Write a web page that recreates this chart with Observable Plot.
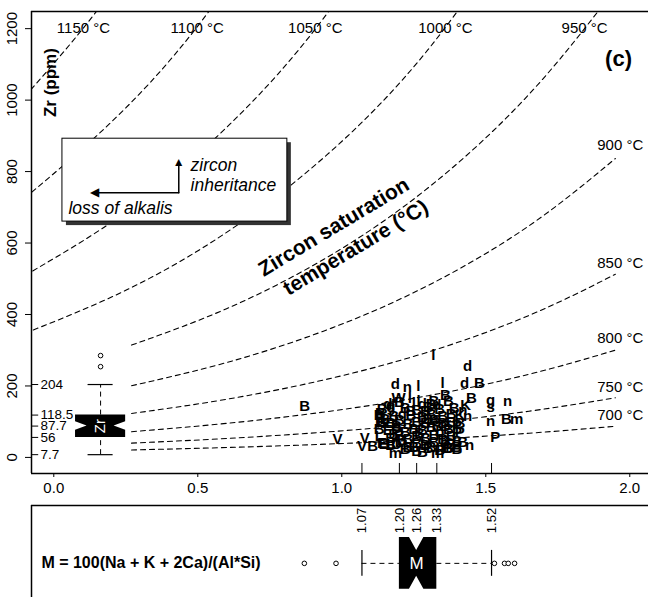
<!DOCTYPE html>
<html><head><meta charset="utf-8">
<script src="https://cdn.jsdelivr.net/npm/d3@7"></script>
<script src="https://cdn.jsdelivr.net/npm/@observablehq/plot@0.6"></script>
<style>
html,body{margin:0;padding:0;background:#fff;overflow:hidden}
#chart svg{display:block}
</style></head><body><div id="chart"></div>
<script>
// ---------- data ----------
const xTicks = [0, 0.5, 1, 1.5, 2];
const yTicks = [0, 200, 400, 600, 800, 1000, 1200];

// Zircon saturation isotherms (Zr ppm read along M)
const tLabels = ["1150 °C","1100 °C","1050 °C","1000 °C","950 °C","900 °C","850 °C","800 °C","750 °C","700 °C"];
const lowM = [0.27, 0.6, 0.95, 1.3, 1.65, 1.95];
const zr700 = [20.9, 27.7, 37.3, 50.2, 67.7, 87.3];
const zr750 = [40.0, 53.0, 71.3, 96.0, 129.3, 166.9];
const zr800 = [72.0, 95.3, 128.3, 172.8, 232.6, 300.2];
const zr850 = [122.9, 162.7, 219.1, 295.0, 397.3, 512.6];
const zr900 = [200.6, 265.5, 357.5, 481.4, 648.2, 836.5];
const zr950 = [314.4, 416.2, 560.4, 754.6, 1016.1, 1311.2];
const highM = [-0.1, 0.25, 0.6, 0.95, 1.3, 1.65];
const zr1000 = [347.5, 467.7, 629.8, 848.0, 1141.8, 1537.5];
const zr1050 = [509.4, 685.9, 923.5, 1243.5, 1674.4];
const zr1100 = [726.5, 978.2, 1317.1, 1773.5];
const zr1150 = [1010.6, 1360.8, 1832.1];

// Zr boxplot (left) and M boxplot (bottom)
const zrStats = [7.7, 56, 87.7, 118.5, 204];
const zrNotch = [75.7, 99.7];
const zrOutliers = [254, 285];
const mStats = [1.07, 1.20, 1.26, 1.33, 1.52];
const mNotch = [1.235, 1.285];
const mOutliers = [0.87, 0.98, 1.53, 1.565, 1.578, 1.60];
const mTitle = "M = 100(Na + K + 2Ca)/(Al*Si)";

// sample symbols: label, M, Zr
const ptLabel = ["l","d","d","n","l","l","d","B","B","B","g","s","n","n","B","m","P","n","V","V","V","B","m","m","K","n","E","L","D","W","d","l","l","B","B","B","B","P","B","B",
 "B","d","l","B","d","B",
 "B","g","B","B","B","B","B","n","d",
 "B","B","d","B","B","B","B","B","K","s",
 "B","B","B","B","B","B","B","B","B","B","P",
 "B","E","B","B","B","B","B","b","B","P",
 "L","B","B","B","B","B","B","B","B","B",
 "E","B","L","B","B","B","B","m","B","B","B",
 "B","B","B","B","B","B","B",
 "B","B","B","B","B","B","B","B","B","B","B","B"];
const ptM = [1.318,1.437,1.186,1.228,1.266,1.35,1.426,1.478,0.871,1.45,1.517,1.517,1.576,1.517,1.572,1.607,1.533,1.444,0.985,1.08,1.07,1.107,1.186,1.333,1.43,1.437,1.145,1.17,1.19,1.197,1.169,1.236,1.267,1.32,1.36,1.134,1.134,1.40,1.40,1.367,
 1.20,1.16,1.25,1.31,1.28,1.37,
 1.14,1.17,1.22,1.26,1.30,1.34,1.39,1.42,1.33,
 1.13,1.18,1.21,1.24,1.28,1.31,1.35,1.38,1.41,1.33,
 1.14,1.17,1.20,1.23,1.26,1.29,1.32,1.35,1.38,1.41,1.40,
 1.13,1.16,1.19,1.22,1.25,1.28,1.31,1.34,1.37,1.41,
 1.13,1.17,1.20,1.23,1.26,1.29,1.32,1.35,1.38,1.36,
 1.14,1.17,1.20,1.23,1.26,1.29,1.32,1.35,1.38,1.40,1.42,
 1.22,1.26,1.30,1.34,1.37,1.40,1.28,
 1.15,1.19,1.24,1.27,1.30,1.33,1.21,1.25,1.29,1.36,1.18,1.31];
const ptZr = [285,254,204,196,198,207,207,207,143,165,160,140,157,101,106,106,56,34,50,53,31,31,11,11,145,115,36,36,36,165,145,165,157,157,173,123,98,70,45,25,
 155,150,152,150,148,158,
 135,140,138,132,140,135,138,132,145,
 118,115,122,118,112,120,115,122,118,110,
 100,95,103,92,100,95,104,96,100,95,90,
 80,75,82,72,80,75,84,72,80,72,
 60,55,62,52,60,55,63,52,60,45,
 40,35,42,30,40,35,42,30,38,30,42,
 22,18,25,20,25,22,15,
 108,88,128,68,108,88,48,30,128,88,65,28];

// ---------- tables built from the arrays ----------
const curves = [];
[[700,zr700],[750,zr750],[800,zr800],[850,zr850],[900,zr900],[950,zr950]].forEach(([t,a]) =>
  a.forEach((z,i) => curves.push({T:t, M:lowM[i], Zr:z})));
[[1000,zr1000],[1050,zr1050],[1100,zr1100],[1150,zr1150]].forEach(([t,a]) =>
  a.forEach((z,i) => curves.push({T:t, M:highM[i], Zr:z})));
const points = ptLabel.map((l,i) => ({label:l, M:ptM[i], Zr:ptZr[i]}));

const font = "'Liberation Sans', Arial, Helvetica, sans-serif";
const xDomain = [-0.0774, 2.065];
const dash = "5,4";

// Zr box geometry
const zc = 0.1625, zh = 0.087, zin = 0.04;
const zrBox = [
  {y: zrStats[1], x1: zc-zh, x2: zc+zh},
  {y: zrNotch[0], x1: zc-zh, x2: zc+zh},
  {y: zrStats[2], x1: zc-zh+zin, x2: zc+zh-zin},
  {y: zrNotch[1], x1: zc-zh, x2: zc+zh},
  {y: zrStats[3], x1: zc-zh, x2: zc+zh}
];
const mh = 0.448;
const mBox = [
  {x: mStats[1], y1: -mh, y2: mh},
  {x: mNotch[0], y1: -mh, y2: mh},
  {x: mStats[2], y1: -mh/2, y2: mh/2},
  {x: mNotch[1], y1: -mh, y2: mh},
  {x: mStats[3], y1: -mh, y2: mh}
];

const topPlot = Plot.plot({
  width: 648, height: 500,
  marginLeft: 31, marginRight: 0, marginTop: 11, marginBottom: 27,
  x: {domain: xDomain},
  y: {domain: [-45, 1248]},
  style: {fontFamily: font, background: "white", color: "black"},
  marks: [
    Plot.line(curves, {x: "M", y: "Zr", z: "T", curve: "natural", stroke: "black", strokeWidth: 1.1, strokeDasharray: dash, clip: true}),
    // legend box with shadow
    Plot.rect([0], {x1: 0.03, x2: 0.811, y1: 660, y2: 892, fill: "#333", dx: 4, dy: 4}),
    Plot.rect([0], {x1: 0.03, x2: 0.811, y1: 660, y2: 892, fill: "white", stroke: "black", strokeWidth: 1}),
    Plot.line([[0.434, 741], [0.434, 820]], {stroke: "black", strokeWidth: 1.5}),
    Plot.line([[0.434, 741], [0.15, 741]], {stroke: "black", strokeWidth: 1.5}),
    Plot.text(["▲"], {x: 0.434, y: 825, fontSize: 12, fill: "black"}),
    Plot.text(["◀"], {x: 0.14, y: 741, fontSize: 12, fill: "black"}),
    Plot.text(["zircon"], {x: 0.475, y: 817, textAnchor: "start", fontStyle: "italic", fontSize: 17.5, fill: "black"}),
    Plot.text(["inheritance"], {x: 0.475, y: 761, textAnchor: "start", fontStyle: "italic", fontSize: 17.5, fill: "black"}),
    Plot.text(["loss of alkalis"], {x: 0.051, y: 697, textAnchor: "start", fontStyle: "italic", fontSize: 17.5, fill: "black"}),
    // rotated annotation
    Plot.text(["Zircon saturation"], {x: 0.972, y: 645, rotate: -31, fontWeight: "bold", fontSize: 21, fill: "black"}),
    Plot.text(["temperature (°C)"], {x: 1.048, y: 587, rotate: -31, fontWeight: "bold", fontSize: 21, fill: "black"}),
    // isotherm labels
    Plot.text(tLabels.slice(0, 5), {x: [0.103, 0.498, 0.908, 1.36, 1.843], y: 1200, fontSize: 15, fill: "black"}),
    Plot.text(tLabels.slice(5), {x: 1.967, y: [873, 543, 333, 196, 117.5], fontSize: 15, fill: "black"}),
    Plot.text(["(c)"], {x: 1.961, y: 1116, fontWeight: "bold", fontSize: 22, fill: "black"}),
    Plot.text(["Zr (ppm)"], {x: -0.0115, y: 1049, rotate: -90, fontWeight: "bold", fontSize: 17, fill: "black"}),
    // Zr boxplot
    Plot.ruleX([zc], {y1: zrStats[0], y2: zrStats[1], strokeDasharray: dash, strokeWidth: 1}),
    Plot.ruleX([zc], {y1: zrStats[3], y2: zrStats[4], strokeDasharray: dash, strokeWidth: 1}),
    Plot.ruleY([zrStats[0], zrStats[4]], {x1: zc - zh/2, x2: zc + zh/2, strokeWidth: 1.2}),
    Plot.areaX(zrBox, {y: "y", x1: "x1", x2: "x2", fill: "black", curve: "linear"}),
    Plot.text(["Zr"], {x: zc, y: zrStats[2], rotate: -90, fill: "white", fontSize: 15}),
    Plot.dot(zrOutliers, {x: zc, y: d => d, r: 2.3, stroke: "black", fill: "white", strokeWidth: 1}),
    Plot.ruleY(zrStats, {x1: xDomain[0], x2: xDomain[0] + 0.025, strokeWidth: 1}),
    Plot.text(zrStats, {x: xDomain[0], y: d => d, text: d => String(d), dx: 9, textAnchor: "start", fontSize: 13.5, fill: "black"}),
    // M quartile rug on the x axis
    Plot.ruleX(mStats, {y1: -45, y2: -17, strokeWidth: 1}),
    // samples
    Plot.text(points, {x: "M", y: "Zr", text: "label", fontWeight: "bold", fontSize: 15, fill: "black"}),
    // frame & axes
    Plot.ruleX([xDomain[0]], {strokeWidth: 1.5}),
    Plot.ruleY([-45, 1248], {strokeWidth: 1.5}),
    Plot.axisX({ticks: xTicks, tickFormat: d3.format(".1f"), tickSize: 4, tickPadding: 5, fontSize: 15, label: null}),
    Plot.axisY({ticks: yTicks, tickFormat: () => "", tickSize: 6, label: null}),
    Plot.text(yTicks, {x: xDomain[0], y: d => d, text: d => String(d), rotate: -90, dx: -19, fontSize: 15, fill: "black"})
  ]
});

const bottomPlot = Plot.plot({
  width: 648, height: 97,
  marginLeft: 31, marginRight: 0, marginTop: 5, marginBottom: 0,
  x: {domain: xDomain, axis: null},
  y: {domain: [-0.59, 1], axis: null},
  style: {fontFamily: font, background: "white", color: "black"},
  marks: [
    Plot.ruleY([0], {x1: mStats[0], x2: mStats[1], strokeDasharray: dash, strokeWidth: 1}),
    Plot.ruleY([0], {x1: mStats[3], x2: mStats[4], strokeDasharray: dash, strokeWidth: 1}),
    Plot.ruleX([mStats[0], mStats[4]], {y1: -mh/2, y2: mh/2, strokeWidth: 1.2}),
    Plot.areaY(mBox, {x: "x", y1: "y1", y2: "y2", fill: "black", curve: "linear"}),
    Plot.text(["M"], {x: mStats[2], y: 0, fill: "white", fontSize: 17}),
    Plot.dot(mOutliers, {x: d => d, y: 0, r: 2.3, stroke: "black", fill: "white", strokeWidth: 1}),
    Plot.text(mStats, {x: d => d, y: 0.741, text: d => d.toFixed(2), rotate: -90, fontSize: 13, fill: "black"}),
    Plot.text([mTitle], {x: -0.043, y: 0, textAnchor: "start", fontWeight: "bold", fontSize: 16, fill: "black"}),
    Plot.ruleX([xDomain[0]], {strokeWidth: 1.5}),
    Plot.ruleY([1], {strokeWidth: 1.5})
  ]
});

const host = document.getElementById("chart");
host.appendChild(topPlot);
host.appendChild(bottomPlot);
</script></body></html>
